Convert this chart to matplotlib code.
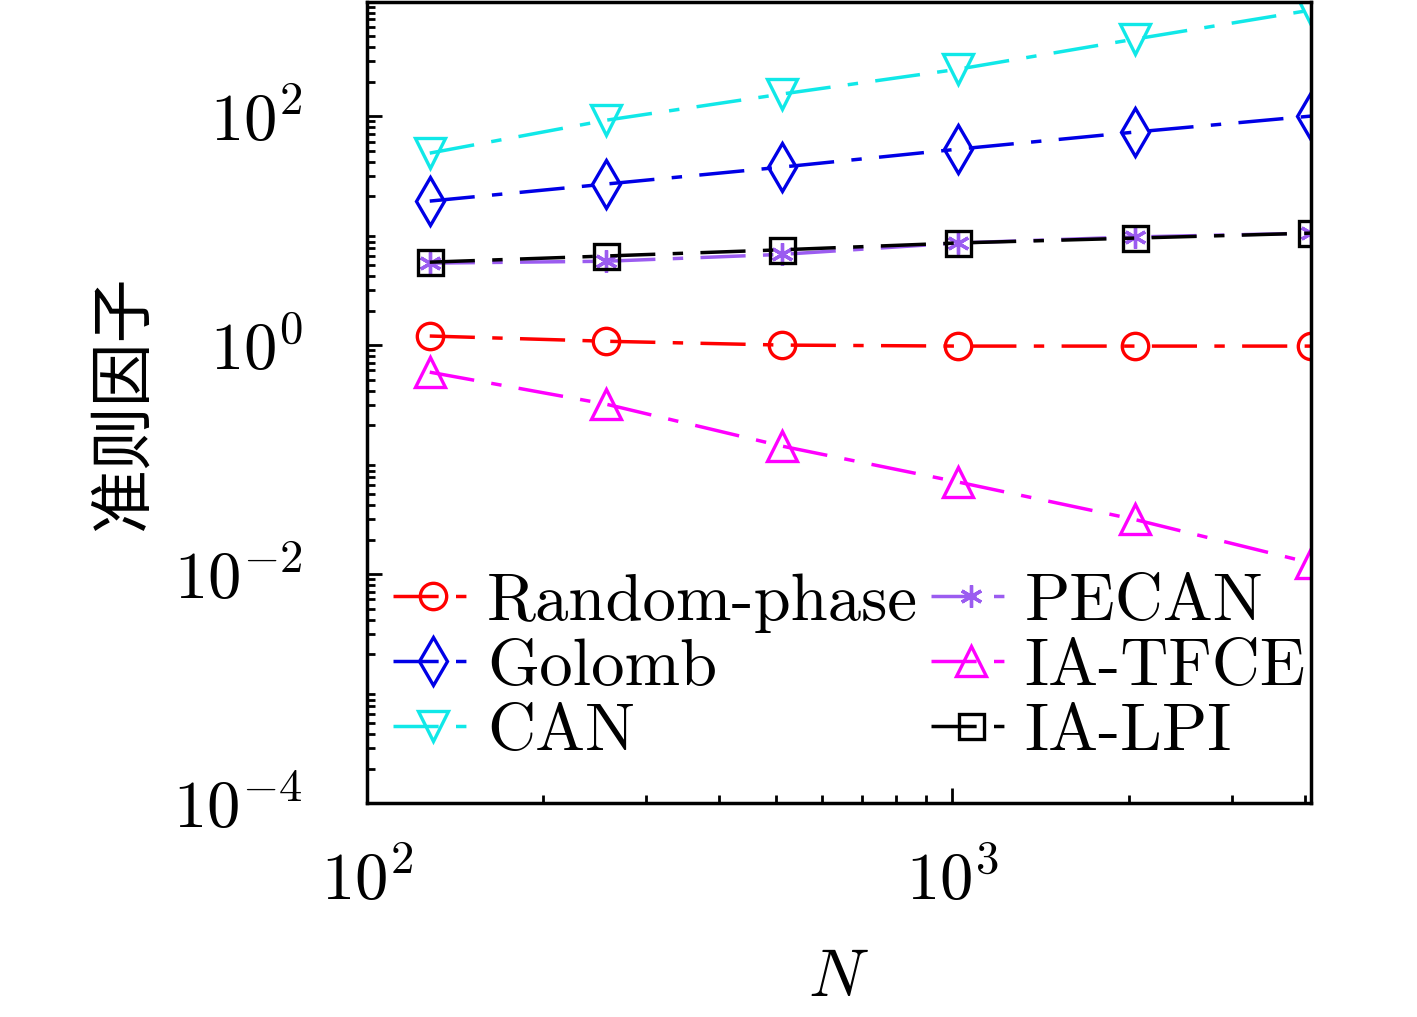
import numpy as np
import matplotlib
matplotlib.use('Agg')
import matplotlib.pyplot as plt
from matplotlib.ticker import LogLocator, NullFormatter

plt.rcParams['font.family'] = ['cmr10', 'DejaVu Serif']
plt.rcParams['mathtext.fontset'] = 'cm'
plt.rcParams['axes.formatter.use_mathtext'] = True

N = [128, 256, 512, 1024, 2048, 4096]
random_phase = [1.2, 1.08, 1.0, 0.98, 0.98, 0.98]
golomb = [18.1, 25.5, 35.9, 51.5, 72.5, 100]
can = [47.5, 92, 156, 257, 470, 843]
pecan = [5.2, 5.4, 6.2, 7.8, 8.8, 9.5]
ia_tfce = [0.58, 0.305, 0.131, 0.0636, 0.030, 0.0125]
ia_lpi = [5.3, 6.0, 6.8, 7.8, 8.6, 9.5]

series = [
    ('Random-phase', random_phase, '#FF0000', 'o', 19),
    ('Golomb', golomb, '#0000E6', 'd', 24),
    ('CAN', can, '#10E8E8', 'v', 22),
    ('PECAN', pecan, '#9B5CF0', (6, 2, 0), 16),
    ('IA-TFCE', ia_tfce, '#FF00FF', '^', 22),
    ('IA-LPI', ia_lpi, '#000000', 's', 18),
]

fig = plt.figure(figsize=(14.17, 10.17), dpi=100)
ax = fig.add_axes([0.259, 0.2104, 0.666, 0.788])

for name, vals, col, mk, ms in series:
    ax.plot(N, vals, color=col, marker=mk, markersize=ms, markerfacecolor='none',
            markeredgewidth=2.4, linewidth=2.5, dashes=(13, 5, 3, 5), label=name)

ax.set_xscale('log')
ax.set_yscale('log')
ax.set_xlim(100, 4096)
ax.set_ylim(1e-4, 1e3)
ax.set_yticks([1e-4, 1e-2, 1e0, 1e2])
ax.set_xticks([1e2, 1e3])
ax.xaxis.set_minor_locator(LogLocator(base=10, subs=np.arange(2, 10)))
ax.yaxis.set_minor_locator(LogLocator(base=10, subs=np.arange(2, 10), numticks=20))
ax.xaxis.set_minor_formatter(NullFormatter())
ax.yaxis.set_minor_formatter(NullFormatter())

ax.tick_params(which='both', direction='in', top=False, right=False, width=2,
               labelsize=48)
ax.tick_params(which='major', length=11)
ax.tick_params(which='minor', length=6)
ax.tick_params(axis='y', which='major', pad=46)
ax.tick_params(axis='x', which='major', pad=34)
for sp in ax.spines.values():
    sp.set_linewidth(2.5)

ax.set_xlabel('$N$', fontsize=48, labelpad=26)
ax.set_ylabel('准则因子', fontsize=46, family=['Noto Sans CJK SC', 'DejaVu Sans'],
              labelpad=12)

ax.legend(loc='upper left', ncol=2, frameon=False, fontsize=48,
          handlelength=1.2, handletextpad=0.2, columnspacing=0.2,
          labelspacing=0.08, borderpad=0, borderaxespad=0,
          bbox_to_anchor=(0.028, 0.287))

fig.savefig('out.png', dpi=100)
